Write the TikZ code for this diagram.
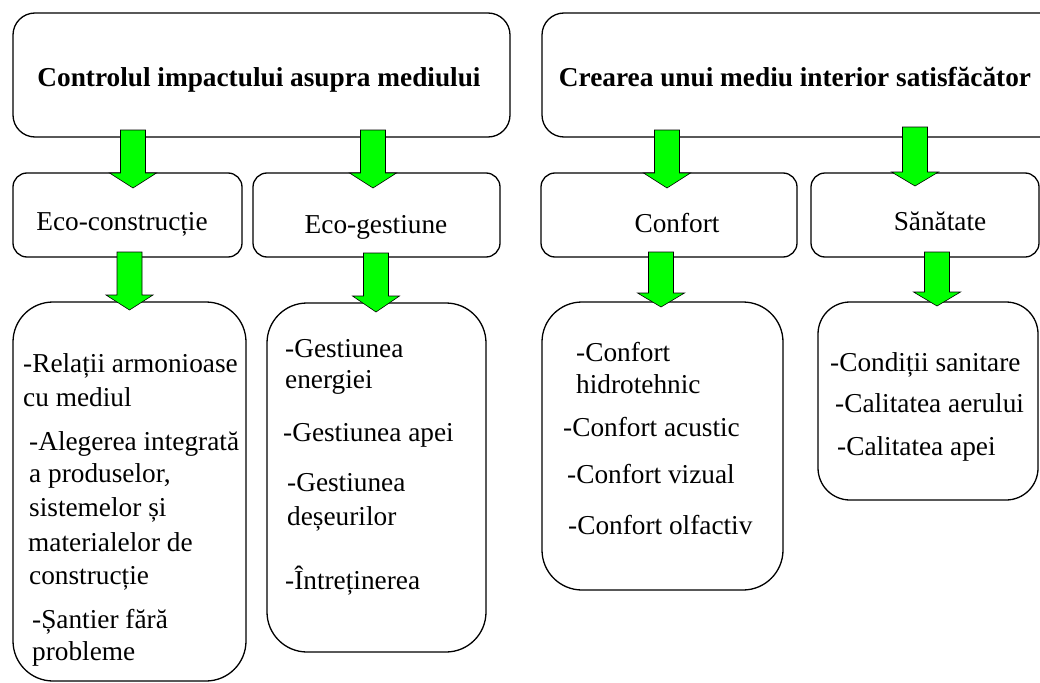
\documentclass[tikz,border=0pt]{standalone}
\usepackage{fontspec}
\setmainfont{Liberation Serif}
\usetikzlibrary{fit}
\definecolor{arrgreen}{RGB}{0,255,0}
\tikzset{
  box/.style={draw=black, line width=1.3pt, rounded corners=#1, inner sep=0pt, fill=white},
  box/.default=18pt,
  garr/.style={fill=arrgreen, draw=black, line width=0.6pt, line join=miter},
  lbl/.style={inner sep=0pt, anchor=base, font=\fontsize{27.3}{33}\selectfont},
  ttl/.style={inner sep=0pt, anchor=base, font=\fontsize{27.3}{33}\selectfont\bfseries},
  ln/.style={inner sep=0pt, anchor=base west, font=\fontsize{27.3}{33}\selectfont},
}
\newcommand{\garrow}[4]{%
  \draw[garr] (#1-12.5,#2) -- (#1+12.5,#2) -- (#1+12.5,#3) -- (#1+23.5,#3) -- (#1,#4) -- (#1-23.5,#3) -- (#1-12.5,#3) -- cycle;}
\begin{document}
\begin{tikzpicture}[x=1pt,y=-1pt]
\useasboundingbox (0,0) rectangle (1040,682);
\begin{scope}
\clip (0,0) rectangle (1040,682);
% top boxes
\node[box=22pt, fit={(13,13)(510,137)}] (t1) {};
\node[box=22pt, fit={(542,13)(1070,137)}] (t2) {};
% middle boxes
\node[box=14pt, fit={(13,173)(242,257)}] (m1) {};
\node[box=14pt, fit={(253,173)(500,257)}] (m2) {};
\node[box=14pt, fit={(541,173)(797,257)}] (m3) {};
\node[box=14pt, fit={(811,173)(1039,257)}] (m4) {};
% bottom boxes
\node[box=40pt, fit={(13,302)(246,681)}] (b1) {};
\node[box=40pt, fit={(267,303)(486,652)}] (b2) {};
\node[box=40pt, fit={(542,302)(783,590)}] (b3) {};
\node[box=32pt, fit={(818,302)(1038,500)}] (b4) {};
\end{scope}
% arrows
\garrow{133}{130}{173}{188}
\garrow{373}{130}{173}{188}
\garrow{667}{130}{173}{188}
\garrow{915}{127}{172}{186}
\garrow{129.5}{252}{295}{310}
\garrow{376}{253}{296}{312}
\garrow{661}{252}{293}{307}
\garrow{937}{252}{292}{306}
% titles
\node[ttl] (t1l) at (259,87) {Controlul impactului asupra mediului};
\node[ttl] (t2l) at (795,87) {Crearea unui mediu interior satisfăcător};
% middle labels
\node[lbl] (m1l) at (122,230) {Eco-construcție};
\node[lbl] (m2l) at (376,233) {Eco-gestiune};
\node[lbl] (m3l) at (677,232) {Confort};
\node[lbl] (m4l) at (940,230) {Sănătate};
% box 1 text
\node[ln] (a1) at (23,372) {-Relații armonioase};
\node[ln] (a2) at (23,406) {cu mediul};
\node[ln] (a3) at (29,450) {-Alegerea integrată};
\node[ln] (a4) at (29,482) {a produselor,};
\node[ln] (a5) at (29,516) {sistemelor și};
\node[ln] (a6) at (28,551) {materialelor de};
\node[ln] (a7) at (29,584) {construcție};
\node[ln] (a8) at (32,628) {-Șantier fără};
\node[ln] (a9) at (32,660) {probleme};
% box 2 text
\node[ln] (g1) at (285,357) {-Gestiunea};
\node[ln] (g2) at (285,388) {energiei};
\node[ln] (g3) at (283,441) {-Gestiunea apei};
\node[ln] (g4) at (287,491) {-Gestiunea};
\node[ln] (g5) at (287,525) {deșeurilor};
\node[ln] (g6) at (285,589) {-Întreținerea};
% box 3 text
\node[ln] (c1) at (576,361) {-Confort};
\node[ln] (c2) at (576,393) {hidrotehnic};
\node[ln] (c3) at (563,436) {-Confort acustic};
\node[ln] (c4) at (567,483) {-Confort vizual};
\node[ln] (c5) at (568,534) {-Confort olfactiv};
% box 4 text
\node[ln] (s1) at (830,371) {-Condiții sanitare};
\node[ln] (s2) at (835,412) {-Calitatea aerului};
\node[ln] (s3) at (837,455) {-Calitatea apei};
\end{tikzpicture}
\end{document}
